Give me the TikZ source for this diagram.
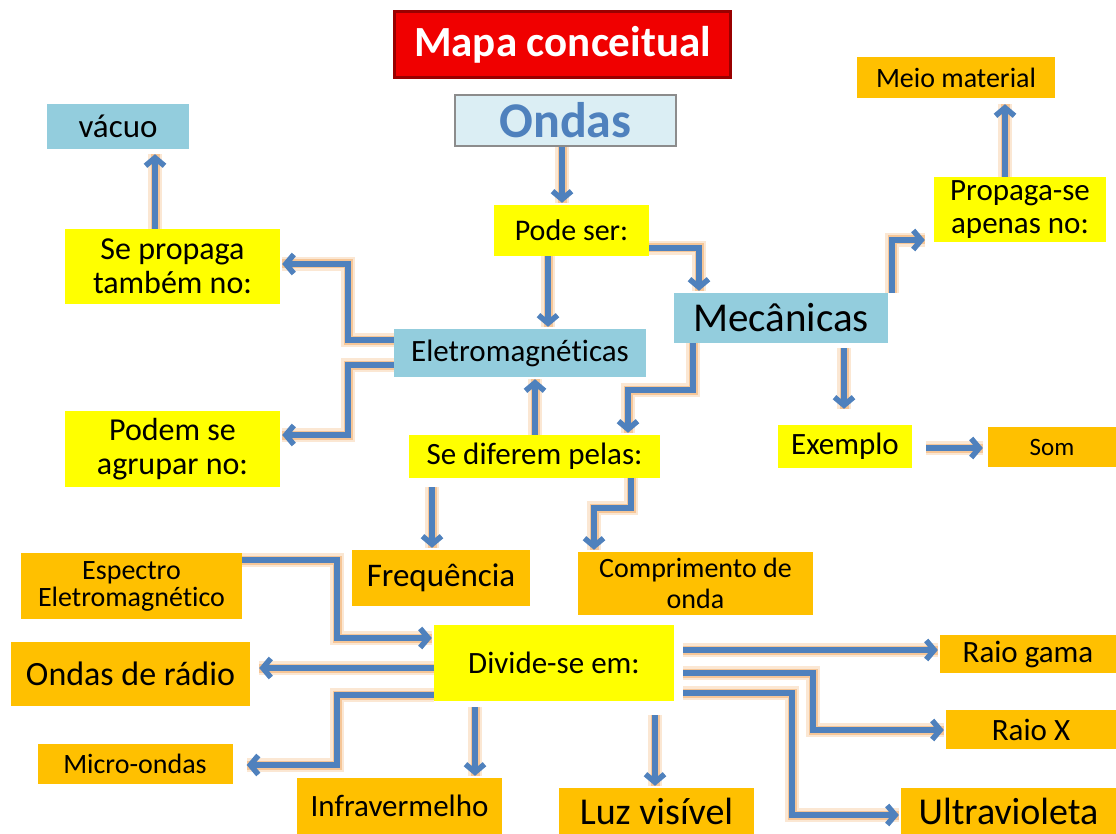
\documentclass[tikz,border=0pt]{standalone}
\usepackage{fontspec}
\setmainfont{Carlito}[Ligatures=NoCommon]
\usetikzlibrary{arrows.meta}
\definecolor{amarelo}{HTML}{FFFF00}
\definecolor{laranja}{HTML}{FFC000}
\definecolor{azulcx}{HTML}{93CDDD}
\definecolor{azulseta}{HTML}{4F81BD}
\definecolor{brilho}{HTML}{F2A050}
\definecolor{vermelho}{HTML}{F00000}
\definecolor{ceu}{HTML}{DBEEF4}
\def\fonte#1#2{\fontsize{#1}{#2}\selectfont}

\begin{document}
\begin{tikzpicture}[x=1pt,y=-1pt,
		caixa/.style={rectangle,inner sep=0pt,align=center,text=black},
		am/.style={caixa,fill=amarelo},
		la/.style={caixa,fill=laranja},
		az/.style={caixa,fill=azulcx},
		medida/.style 2 args={minimum width=#1pt,minimum height=#2pt},
		seta/.style={draw=azulseta,line width=5.5pt,line join=miter,
			-{Straight Barb[length=8pt,width=19pt]},shorten >=2pt,
			preaction={draw=brilho,line width=14pt,opacity=.25,-},
			preaction={draw=brilho,line width=9pt,opacity=.45,-}}]
		\fill[white] (0,0) rectangle (1116,834);
		\node[caixa,fill=vermelho,draw=red!60!black,line width=3pt,medida={336}{66},
			text=white,font=\fonte{43}{45}\bfseries] (titulo) at (562.5,45) {Mapa conceitual};
		\node[caixa,fill=ceu,draw=black!45,line width=2.5pt,medida={221}{51},
			text=azulseta,font=\fonte{50}{50}\bfseries] (ondas) at (565.5,120.5) {Ondas};
		\node[az,medida={142}{45},font=\fonte{33}{36}] (vacuo) at (118,126.5) {vácuo};
		\node[la,medida={198}{41},font=\fonte{28}{30}] (meio) at (956,77.5) {Meio material};
		\node[am,medida={155}{51},font=\fonte{30}{32}] (pode) at (571.5,230.5) {Pode ser:};
		\node[am,medida={172}{65},font=\fonte{31}{33}] (propse) at (1020,209.5) {Propaga-se\\apenas no:};
		\node[am,medida={215}{75},font=\fonte{32}{34}] (sprop) at (172.5,266.5) {Se propaga\\também no:};
		\node[az,medida={214}{50},font=\fonte{41}{44}] (mec) at (781,318) {Mecânicas};
		\node[az,medida={252}{48},font=\fonte{31}{33}] (eletro) at (520,353) {Eletromagnéticas};
		\node[am,medida={215}{76},font=\fonte{32}{34}] (podem) at (172.5,449) {Podem se\\agrupar no:};
		\node[am,medida={251}{43},font=\fonte{31}{33}] (sedif) at (534.5,456.5) {Se diferem pelas:};
		\node[am,medida={134}{43},font=\fonte{31}{33}] (exemplo) at (845,446.5) {Exemplo};
		\node[la,medida={128}{40},font=\fonte{25}{27}] (som) at (1052,447) {Som};
		\node[la,medida={178}{56},font=\fonte{33}{35}] (freq) at (441,578) {Frequência};
		\node[la,medida={235}{63},font=\fonte{28}{31}] (comp) at (695.5,583.5) {Comprimento de\\onda};
		\node[la,medida={221}{66},font=\fonte{28}{27}] (espectro) at (131.5,586) {Espectro\\Eletromagnético};
		\node[am,medida={240}{76},font=\fonte{31}{33}] (divide) at (554,663) {Divide-se em:};
		\node[la,medida={239}{64},font=\fonte{34}{36}] (radio) at (130.5,674) {Ondas de rádio};
		\node[la,medida={176}{38},font=\fonte{31}{33}] (gama) at (1028,654) {Raio gama};
		\node[la,medida={170}{39},font=\fonte{31}{33}] (raiox) at (1031,729.5) {Raio X};
		\node[la,medida={195}{40},font=\fonte{28}{30}] (micro) at (135,764) {Micro-ondas};
		\node[la,medida={205}{56},font=\fonte{31}{33}] (infra) at (399.5,806) {Infravermelho};
		\node[la,medida={195}{46},font=\fonte{38}{40}] (luz) at (656.5,811) {Luz visível};
		\node[la,medida={215}{46},font=\fonte{38}{40}] (ultra) at (1008.5,811) {Ultravioleta};

		\draw[seta] (ondas.south -| 562,0) -- (pode.north -| 562,0);
		\draw[seta] (pode.south -| 548,0) -- (eletro.north -| 548,0);
		\draw[seta] (pode.east |- 0,248) -| (mec.north -| 699,0);
		\draw[seta,shorten >=5pt] (sprop.north -| 155,0) -- (vacuo.south -| 155,0);
		\draw[seta] (eletro.west |- 0,340) -- (348,340) |- (sprop.east |- 0,264);
		\draw[seta] (eletro.west |- 0,365) -- (348,365) |- (podem.east |- 0,435);
		\draw[seta] (sedif.north -| 535,0) -- (eletro.south -| 535,0);
		\draw[seta] (mec.south -| 693,0) |- (628,390) -- (sedif.north -| 628,0);
		\draw[seta,shorten >=16pt,shorten <=5pt] (mec.south -| 844,0) -- (exemplo.north -| 844,0);
		\draw[seta,shorten >=9pt] (mec.north -| 892,0) |- (propse.west |- 0,240);
		\draw[seta,shorten >=6pt] (propse.north -| 1005,0) -- (meio.south -| 1005,0);
		\draw[seta,shorten <=14pt,shorten >=5pt] (exemplo.east |- 0,448) -- (som.west |- 0,448);
		\draw[seta,shorten <=9pt] (sedif.south -| 432,0) -- (freq.north -| 432,0);
		\draw[seta] (sedif.south -| 631,0) |- (594,508) -- (comp.north -| 594,0);
		\draw[seta] (espectro.east |- 0,560) -| (337,638) -- (divide.west |- 0,638);
		\draw[seta,shorten >=9pt] (divide.west |- 0,668) -- (radio.east |- 0,668);
		\draw[seta,shorten >=14pt] (divide.west |- 0,695) -| (337,765) -- (micro.east |- 0,765);
		\draw[seta,shorten <=6pt] (divide.south -| 475,0) -- (infra.north -| 475,0);
		\draw[seta,shorten <=14pt] (divide.south -| 655,0) -- (luz.north -| 655,0);
		\draw[seta,shorten <=9pt] (divide.east |- 0,650) -- (gama.west |- 0,650);
		\draw[seta,shorten <=9pt] (divide.east |- 0,673) -| (813,730) -- (raiox.west |- 0,730);
		\draw[seta,shorten <=9pt] (divide.east |- 0,693) -| (792,815) -- (ultra.west |- 0,815);
	\end{tikzpicture}
\end{document}
